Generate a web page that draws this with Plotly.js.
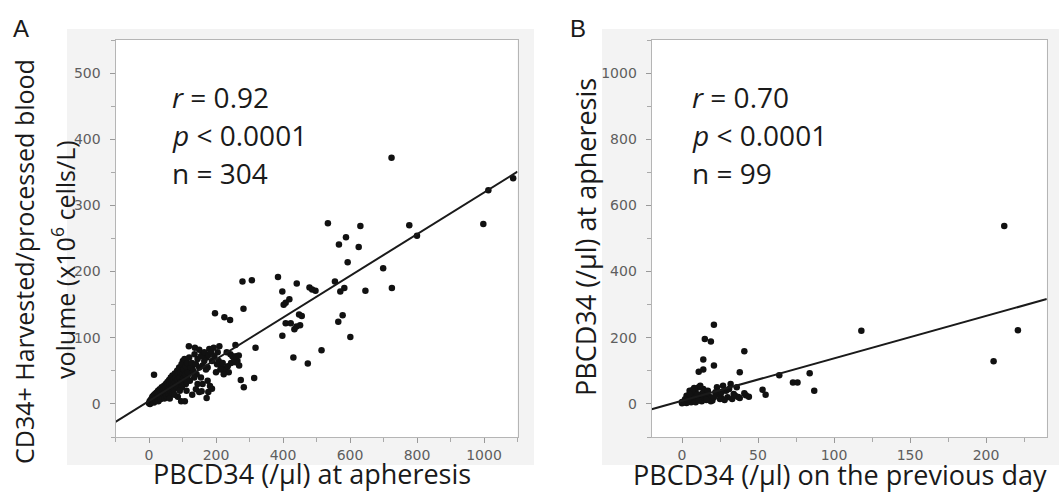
<!DOCTYPE html>
<html>
<head>
<meta charset="utf-8">
<script src="https://cdn.plot.ly/plotly-3.0.1.min.js"></script>
<style>html,body{margin:0;padding:0;background:#fff;}#chart{width:1059px;height:494px;}</style>
</head>
<body>
<div id="chart"></div>
<script>
// ---------- Panel A data: PBCD34 at apheresis vs CD34+ harvested / processed blood volume ----------
const xA = [724,1087,1013,998,777,800,534,631,588,567,626,593,699,555,583,571,725,646,578,565,601,515,474,431,398,385,441,398,479,497,487,419,408,402,448,456,408,423,451,434,440,307,279,282,197,225,242,318,314,283,274,15,172,119,137,180,193,210,258,177,157,188,96,107,129,112,101,106,117,126,142,172,188,203,218,228,238,243,253,264,269,175,182,165,175,249,245,258,223,208,213,160,150,155,145,135,130,122,115,110,
0,2,3,5,6,8,10,10,12,14,15,16,18,20,20,22,24,25,27,28,30,30,32,34,35,36,38,40,40,42,44,45,46,48,50,50,52,54,55,56,58,60,60,62,64,65,67,68,70,70,72,74,75,77,78,80,82,84,85,87,88,90,92,94,95,97,98,100,102,104,106,108,110,112,114,116,120,124,128,132,136,140,145,150,155,160,165,170,178,185,195,200,205,220,232,260,268,235,86,62,76,92,150,140,160];
const yA = [372,341,323,272,270,254,273,269,252,241,237,214,205,185,175,170,175,171,134,124,101,81,61,70,103,192,182,170,176,171,173,158,153,150,135,133,122,122,119,113,117,187,185,144,137,131,127,85,39,25,36,44,9,87,85,83,85,87,89,18,19,23,4,4,14,20,65,58,53,48,45,70,65,60,55,50,48,75,70,65,58,35,27,65,55,72,62,63,45,65,52,75,55,40,30,40,58,35,42,30,
1,4,0,6,2,8,3,11,6,13,2,9,15,5,11,17,8,14,20,4,11,16,22,7,13,18,25,10,20,15,27,22,8,17,30,24,12,20,33,27,15,24,36,30,19,40,33,25,15,43,29,37,22,46,33,40,27,50,36,44,30,55,40,48,33,60,25,45,38,52,68,44,57,36,62,48,70,55,62,50,75,60,68,82,72,58,78,52,74,78,72,48,78,62,78,72,73,57,11,8,14,20,18,22,30];
const fitAx = [-100, 1100];
const fitAy = [-27, 351];
const statsA = ["<i>r</i> = 0.92", "<i>p</i> < 0.0001", "n = 304"];

// ---------- Panel B data: PBCD34 on the previous day vs PBCD34 at apheresis ----------
const xB = [212,221,205,118,84,87,73,76,64,53,55,41,38,21,15,19,14,21,11,14,41,42,37,27,29,35,33,30,26,24,22,20,18,16,15,14,13,12,11,10,9,8,8,7,6,6,5,4,3,3,2,1,0,4,9,11,13,17,19,23,25,28,31,34,36,38,12,7,16,10,5,2,0,21,26,44,32];
const yB = [538,223,129,221,93,40,65,65,87,43,28,159,96,239,196,189,134,116,97,104,32,26,21,55,40,25,15,20,18,30,35,10,22,30,15,45,8,25,50,18,35,12,48,28,5,20,40,10,3,25,8,4,6,15,5,10,30,40,8,50,15,12,45,30,50,18,55,42,12,28,30,14,2,20,35,22,60];
const fitBx = [-20, 240];
const fitBy = [-16, 317];
const statsB = ["<i>r</i> = 0.70", "<i>p</i> < 0.0001", "n = 99"];

// ---------- Labels ----------
const panelLabels = ["A", "B"];
const xTitleA = "PBCD34 (/µl) at apheresis";
const yTitleA1 = "CD34+ Harvested/processed blood";
const yTitleA2 = "volume (x10<sup>6</sup> cells/L)";
const xTitleB = "PBCD34 (/µl) on the previous day";
const yTitleB = "PBCD34 (/µl) at apheresis";

// ---------- Layout geometry (pixels) ----------
const W = 1059, H = 494;
const px = p => p / W;
const py = p => 1 - p / H;
const plotTop = 40, plotBot = 437;
const aL = 115.5, aR = 517.5, bL = 651.6, bR = 1046.8;

const markerStyle = {size: 6.5, color: '#111'};
const lineStyle = {color: '#1a1a1a', width: 2};

const traces = [
  {x: xA, y: yA, type: 'scatter', mode: 'markers', marker: markerStyle, xaxis: 'x', yaxis: 'y', hoverinfo: 'skip'},
  {x: fitAx, y: fitAy, type: 'scatter', mode: 'lines', line: lineStyle, xaxis: 'x', yaxis: 'y', hoverinfo: 'skip'},
  {x: xB, y: yB, type: 'scatter', mode: 'markers', marker: markerStyle, xaxis: 'x2', yaxis: 'y2', hoverinfo: 'skip'},
  {x: fitBx, y: fitBy, type: 'scatter', mode: 'lines', line: lineStyle, xaxis: 'x2', yaxis: 'y2', hoverinfo: 'skip'}
];

const tickFont = {family: 'DejaVu Sans, sans-serif', size: 14, color: '#5e5e5e'};
function axis(domain, range, dtick, minorDtick, anchor, standoff) {
  return {
    domain: domain, range: range, dtick: dtick, tick0: 0,
    showgrid: false, zeroline: false,
    showline: true, linecolor: '#b5b5b5', linewidth: 1, mirror: true,
    ticks: 'outside', ticklen: 5, tickcolor: '#999', tickwidth: 1,
    minor: {dtick: minorDtick, tick0: 0, ticks: 'outside', ticklen: 4, tickcolor: '#aaa', showgrid: false},
    tickfont: tickFont, anchor: anchor, fixedrange: true, ticklabelstandoff: standoff
  };
}

const titleFont = {family: 'Open Sans, sans-serif', size: 27, color: '#1a1a1a'};
const yTitleFontA = {family: 'Open Sans, sans-serif', size: 25, color: '#1a1a1a'};
const statFont = {family: 'Open Sans, sans-serif', size: 28, color: '#1a1a1a'};
const statY = [97, 135, 173];

const annotations = [];
statsA.forEach((t, i) => annotations.push({text: t, xref: 'paper', yref: 'paper', x: px(170), y: py(statY[i]), xanchor: 'left', yanchor: 'middle', showarrow: false, font: statFont}));
statsB.forEach((t, i) => annotations.push({text: t, xref: 'paper', yref: 'paper', x: px(690), y: py(statY[i]), xanchor: 'left', yanchor: 'middle', showarrow: false, font: statFont}));
annotations.push({text: xTitleA, xref: 'paper', yref: 'paper', x: px(312), y: py(473), xanchor: 'center', yanchor: 'middle', showarrow: false, font: titleFont});
annotations.push({text: xTitleB, xref: 'paper', yref: 'paper', x: px(840), y: py(474), xanchor: 'center', yanchor: 'middle', showarrow: false, font: titleFont});
annotations.push({text: yTitleA1, xref: 'paper', yref: 'paper', x: px(24), y: py(262), xanchor: 'center', yanchor: 'middle', textangle: -90, showarrow: false, font: yTitleFontA});
annotations.push({text: yTitleA2, xref: 'paper', yref: 'paper', x: px(63), y: py(260), xanchor: 'center', yanchor: 'middle', textangle: -90, showarrow: false, font: yTitleFontA});
annotations.push({text: yTitleB, xref: 'paper', yref: 'paper', x: px(586), y: py(237), xanchor: 'center', yanchor: 'middle', textangle: -90, showarrow: false, font: titleFont});
annotations.push({text: panelLabels[0], xref: 'paper', yref: 'paper', x: px(21), y: py(29), xanchor: 'center', yanchor: 'middle', showarrow: false, font: {family: 'Liberation Sans, Arial, sans-serif', size: 24, color: '#1a1a1a'}});
annotations.push({text: panelLabels[1], xref: 'paper', yref: 'paper', x: px(578), y: py(29), xanchor: 'center', yanchor: 'middle', showarrow: false, font: {family: 'Liberation Sans, Arial, sans-serif', size: 24, color: '#1a1a1a'}});

const shapes = [
  {type: 'rect', xref: 'paper', yref: 'paper', x0: px(67), x1: px(534), y0: py(465), y1: py(29), fillcolor: '#f3f3f3', line: {width: 0}, layer: 'below'},
  {type: 'rect', xref: 'paper', yref: 'paper', x0: px(602), x1: px(1059), y0: py(465), y1: py(29), fillcolor: '#f3f3f3', line: {width: 0}, layer: 'below'},
  {type: 'rect', xref: 'paper', yref: 'paper', x0: px(aL), x1: px(aR), y0: py(plotBot), y1: py(plotTop), fillcolor: '#ffffff', line: {width: 0}, layer: 'below'},
  {type: 'rect', xref: 'paper', yref: 'paper', x0: px(bL), x1: px(bR), y0: py(plotBot), y1: py(plotTop), fillcolor: '#ffffff', line: {width: 0}, layer: 'below'}
];

const layout = {
  width: W, height: H,
  margin: {l: 0, r: 0, t: 0, b: 0},
  paper_bgcolor: '#ffffff', plot_bgcolor: 'rgba(0,0,0,0)',
  showlegend: false,
  xaxis: axis([px(aL), px(aR)], [-100, 1100], 200, 100, 'y', 0),
  yaxis: axis([py(plotBot), py(plotTop)], [-50, 550], 100, 50, 'x', 6),
  xaxis2: axis([px(bL), px(bR)], [-20, 240], 50, 25, 'y2', 0),
  yaxis2: axis([py(plotBot), py(plotTop)], [-100, 1100], 200, 100, 'x2', 6),
  annotations: annotations,
  shapes: shapes
};

Plotly.newPlot('chart', traces, layout, {displayModeBar: false, staticPlot: true});
</script>
</body>
</html>
